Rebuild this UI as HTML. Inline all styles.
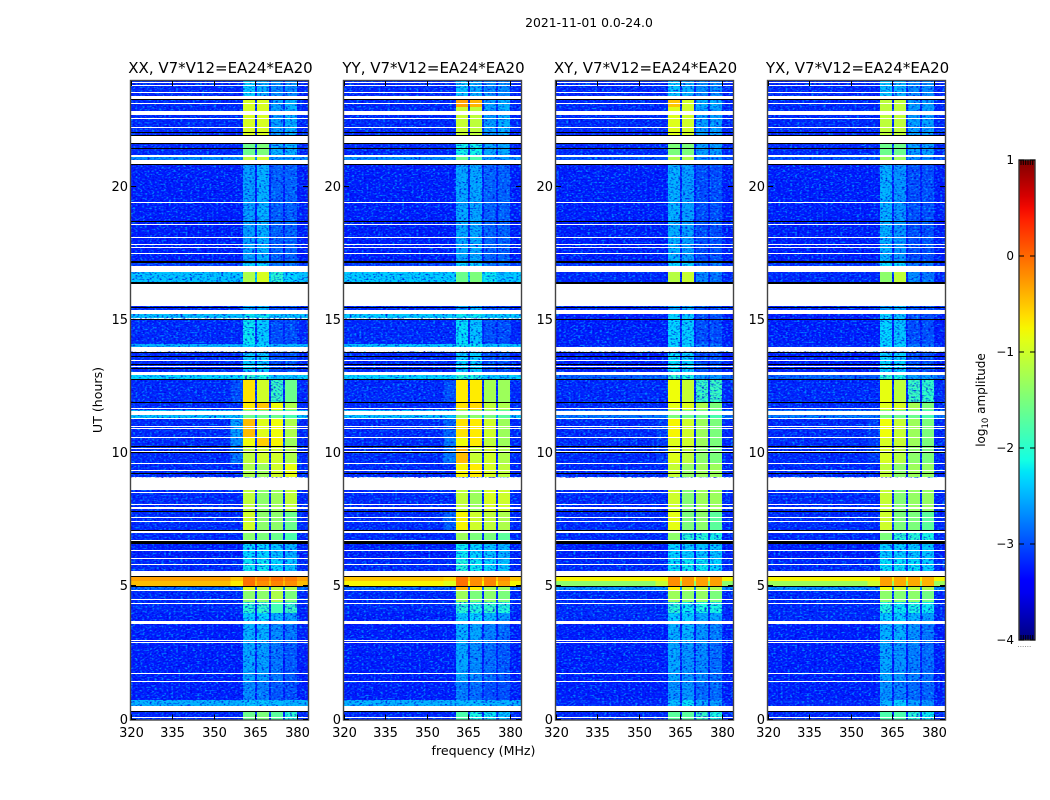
<!DOCTYPE html>
<html lang="en">
<head>
<meta charset="utf-8">
<title>Amplitude waterfall 2021-11-01</title>
<style>
html,body{margin:0;padding:0;background:#fff}
svg{display:block}
text{font-family:"DejaVu Sans","Liberation Sans",sans-serif;fill:#000}
</style>
</head>
<body>
<svg id="figure" xmlns="http://www.w3.org/2000/svg" width="1050" height="800" viewBox="0 0 1050 800">
  <defs>
    <filter id="speckDark" x="0" y="0" width="100%" height="100%">
      <feTurbulence type="fractalNoise" baseFrequency="0.42 0.62" numOctaves="1" seed="4"/>
      <feColorMatrix type="matrix" values="0 0 0 0 0  0 0 0 0 0  0 0 0 0 0.72  2.8 2.8 0 0 -2.75"/>
    </filter>
    <filter id="speckLight" x="0" y="0" width="100%" height="100%">
      <feTurbulence type="fractalNoise" baseFrequency="0.42 0.62" numOctaves="1" seed="11"/>
      <feColorMatrix type="matrix" values="0 0 0 0 0  0 0 0 0 0.6  0 0 0 0 1  2.8 2.8 0 0 -2.8"/>
    </filter>
    <linearGradient id="jetGradient" x1="0" y1="1" x2="0" y2="0"></linearGradient>
  </defs>
  <text x="589" y="27" font-size="12.4" text-anchor="middle">2021-11-01 0.0-24.0</text>
  <g id="panels"></g>
  <text x="483.5" y="755" font-size="12.6" text-anchor="middle">frequency (MHz)</text>
  <text x="102" y="400" font-size="12.6" text-anchor="middle" transform="rotate(-90 102 400)">UT (hours)</text>
  <g id="colorbar"></g>
  <text x="985" y="400" font-size="12" text-anchor="middle" transform="rotate(-90 985 400)">log<tspan font-size="8.5" dy="3">10</tspan><tspan dy="-3"> amplitude</tspan></text>
</svg>
<script>
// ---- chart data (hours, MHz, log10 amplitude) ----
const panelNames = ['XX', 'YY', 'XY', 'YX'];
const baselineLabel = ', V7*V12=EA24*EA20';
const xTickValues = [320, 335, 350, 365, 380];
const yTickValues = [0, 5, 10, 15, 20];
const colorbarTickValues = [-4, -3, -2, -1, 0, 1];
const preBandMHz = [356, 360.6];
const windowsMHz = [[360.6, 365], [365.6, 370], [370.7, 375], [375.8, 380.1]];

// each row: start hour, end hour, background, pre-band, window 1..4
const rowsXX = [
  [0,0.3,-3.2,-3.2,-1.6,-1.5,-1.7,-2.0],
  [0.5,0.72,-2.5,-2.5,-2.4,-2.4,-2.45,-2.5],
  [0.72,1.4,-3.25,-3.25,-2.7,-2.75,-2.95,-3.0],
  [1.4,2.9,-3.25,-3.25,-2.55,-2.6,-2.8,-2.95],
  [2.9,3.65,-3.25,-3.25,-2.5,-2.5,-2.7,-2.8],
  [3.65,4.0,-3.25,-3.25,-2.35,-2.3,-2.5,-2.6],
  [4.0,4.4,-3.2,-3.2,-2.0,-1.95,-1.85,-1.9],
  [4.4,4.85,-3.2,-3.2,-1.4,-1.4,-1.2,-1.5],
  [4.85,5.0,-2.9,-2.9,-0.9,-1.1,-1.1,-1.2],
  [5.0,5.18,-0.45,-0.7,-0.05,-0.2,-0.15,-0.2],
  [5.18,5.35,-0.3,-0.5,-0.05,-0.1,-0.05,-0.1],
  [5.35,6.0,-3.2,-3.2,-2.2,-2.2,-2.3,-2.4],
  [6.0,6.7,-3.25,-3.25,-2.3,-2.3,-2.4,-2.5],
  [6.7,7.1,-3.2,-3.2,-1.4,-1.5,-1.6,-1.8],
  [7.1,7.8,-3.2,-3.2,-1.0,-1.4,-1.4,-1.6],
  [7.8,8.6,-3.2,-3.2,-1.1,-1.4,-1.3,-1.1],
  [9.1,9.6,-3.2,-3.2,-1.2,-1.3,-1.0,-0.85],
  [9.6,10.25,-3.2,-2.8,-1.1,-1.0,-1.0,-1.2],
  [10.25,10.6,-3.2,-2.7,-0.8,-0.55,-0.75,-1.3],
  [10.6,11.3,-3.2,-2.6,-0.45,-0.9,-0.8,-1.2],
  [11.3,11.6,-2.4,-2.4,-1.6,-1.6,-1.6,-1.8],
  [11.6,11.9,-3.2,-3.2,-0.7,-0.5,-0.8,-1.2],
  [11.9,12.76,-3.2,-3.0,-0.65,-1.0,-1.9,-1.6],
  [12.76,12.92,-2.3,-2.3,-2.0,-2.1,-2.4,-2.4],
  [13.05,13.8,-3.2,-3.2,-2.35,-2.35,-3.0,-3.0],
  [13.96,14.1,-2.5,-2.5,-2.3,-2.3,-2.5,-2.5],
  [14.1,15.0,-3.2,-3.2,-2.2,-2.35,-3.0,-3.0],
  [15.05,15.23,-2.4,-2.4,-2.2,-2.2,-2.4,-2.4],
  [15.38,15.5,-3.2,-3.2,-2.6,-2.5,-3.0,-3.0],
  [16.38,16.8,-2.4,-2.4,-1.2,-0.95,-2.0,-2.3],
  [17.03,17.2,-3.1,-3.1,-2.3,-2.3,-2.8,-2.8],
  [17.2,20.85,-3.25,-3.25,-2.6,-2.5,-2.9,-2.9],
  [20.98,21.2,-2.7,-2.7,-1.1,-1.0,-2.6,-2.6],
  [21.2,21.65,-3.2,-3.2,-1.6,-1.5,-2.5,-2.5],
  [21.88,23.27,-3.2,-3.2,-0.95,-0.95,-2.6,-2.5],
  [23.27,24,-3.2,-3.2,-2.35,-2.5,-2.7,-2.7]
];
const rowsYY = [
  [0,0.3,-3.2,-3.2,-1.8,-2.1,-2.2,-2.4],
  [0.5,0.72,-2.5,-2.5,-2.45,-2.45,-2.5,-2.5],
  [0.72,1.4,-3.25,-3.25,-2.75,-2.85,-3.0,-3.0],
  [1.4,2.9,-3.25,-3.25,-2.55,-2.7,-2.85,-2.95],
  [2.9,3.65,-3.25,-3.25,-2.5,-2.55,-2.75,-2.85],
  [3.65,4.0,-3.25,-3.25,-2.35,-2.3,-2.45,-2.6],
  [4.0,4.4,-3.2,-3.2,-2.0,-2.05,-1.95,-2.05],
  [4.4,4.85,-3.2,-3.2,-1.3,-1.5,-1.4,-1.5],
  [4.85,5.0,-2.9,-2.9,-0.4,-0.7,-1.2,-1.3],
  [5.0,5.18,-0.75,-0.9,-0.05,-0.2,-0.15,-0.3],
  [5.18,5.35,-0.5,-0.6,-0.05,-0.2,-0.15,-0.2],
  [5.35,6.0,-3.2,-3.2,-2.05,-2.2,-2.3,-2.4],
  [6.0,6.7,-3.25,-3.25,-2.2,-2.3,-2.4,-2.5],
  [6.7,7.1,-3.2,-3.2,-1.3,-1.5,-1.5,-1.7],
  [7.1,7.8,-3.2,-2.9,-0.75,-1.0,-1.1,-1.2],
  [7.8,8.6,-3.2,-3.2,-1.1,-1.3,-0.95,-1.0],
  [9.1,9.6,-3.2,-3.2,-0.75,-0.7,-0.95,-1.1],
  [9.6,10.25,-3.2,-2.8,-0.45,-1.05,-1.0,-1.2],
  [10.25,10.6,-3.2,-2.8,-0.8,-0.7,-1.1,-1.3],
  [10.6,11.3,-3.2,-2.9,-0.65,-0.7,-1.0,-1.3],
  [11.3,11.6,-2.4,-2.4,-1.4,-1.4,-1.5,-1.7],
  [11.6,11.9,-3.2,-3.2,-0.65,-0.6,-1.1,-1.2],
  [11.9,12.76,-3.2,-3.0,-0.7,-0.7,-1.25,-1.3],
  [12.76,12.92,-2.3,-2.3,-2.0,-2.1,-2.4,-2.4],
  [13.05,13.8,-3.2,-3.2,-2.35,-2.35,-3.0,-3.0],
  [13.96,14.1,-2.4,-2.4,-2.2,-2.2,-2.4,-2.4],
  [14.1,15.0,-3.2,-3.2,-2.25,-2.4,-3.0,-3.0],
  [15.05,15.23,-2.35,-2.35,-2.2,-2.2,-2.35,-2.35],
  [15.38,15.5,-3.2,-3.2,-2.6,-2.5,-3.0,-3.0],
  [16.38,16.8,-2.35,-2.35,-1.6,-1.5,-2.2,-2.4],
  [17.03,17.2,-3.1,-3.1,-2.3,-2.3,-2.8,-2.8],
  [17.2,20.85,-3.25,-3.25,-2.55,-2.55,-2.9,-2.9],
  [20.98,21.2,-2.7,-2.7,-1.6,-1.8,-2.6,-2.6],
  [21.2,21.65,-3.2,-3.2,-2.15,-2.15,-2.55,-2.55],
  [21.88,23.0,-3.2,-3.2,-1.05,-1.1,-2.6,-2.5],
  [23.0,23.27,-3.2,-3.2,-0.3,-0.4,-2.6,-2.5],
  [23.27,24,-3.2,-3.2,-2.4,-2.5,-2.7,-2.7]
];
const rowsXY = [
  [0,0.3,-3.2,-3.2,-1.7,-1.7,-1.9,-2.1],
  [0.5,0.72,-3.2,-3.2,-2.45,-2.25,-2.55,-2.6],
  [0.72,1.4,-3.25,-3.25,-2.65,-2.65,-2.85,-2.85],
  [1.4,2.9,-3.25,-3.25,-2.55,-2.65,-2.7,-2.85],
  [2.9,3.65,-3.25,-3.25,-2.5,-2.5,-2.65,-2.75],
  [3.65,4.0,-3.2,-3.2,-2.35,-2.35,-2.55,-2.55],
  [4.0,4.4,-3.2,-3.2,-2.0,-2.2,-2.1,-2.1],
  [4.4,4.85,-3.2,-3.2,-1.3,-1.4,-1.35,-1.5],
  [4.85,5.0,-2.7,-2.7,-0.7,-1.0,-1.1,-1.2],
  [5.0,5.18,-1.4,-1.05,-0.2,-0.25,-0.3,-0.3],
  [5.18,5.35,-0.75,-0.75,-0.2,-0.25,-0.3,-0.3],
  [5.35,6.0,-3.2,-3.2,-2.25,-2.2,-2.2,-2.3],
  [6.0,6.7,-3.25,-3.25,-2.3,-2.35,-2.4,-2.4],
  [6.7,7.1,-3.2,-3.2,-1.4,-2.0,-2.0,-2.1],
  [7.1,7.8,-3.2,-3.2,-0.85,-1.5,-1.4,-1.7],
  [7.8,8.6,-3.2,-3.2,-1.0,-1.45,-1.3,-1.3],
  [9.1,9.6,-3.2,-3.2,-1.05,-1.35,-1.3,-1.3],
  [9.6,10.25,-3.2,-3.1,-0.9,-1.1,-1.4,-1.5],
  [10.25,10.6,-3.2,-3.1,-0.9,-1.0,-1.3,-1.5],
  [10.6,11.3,-3.2,-3.1,-0.75,-1.0,-1.3,-1.5],
  [11.3,11.6,-2.8,-2.8,-1.5,-1.6,-1.6,-1.8],
  [11.6,11.9,-3.2,-3.2,-0.85,-0.9,-1.2,-1.5],
  [11.9,12.76,-3.2,-3.2,-0.8,-1.05,-1.9,-1.9],
  [12.76,12.92,-2.9,-2.9,-2.0,-2.1,-2.6,-2.6],
  [13.05,13.8,-3.25,-3.25,-2.25,-2.35,-3.0,-3.0],
  [13.96,14.1,-3.2,-3.2,-2.3,-2.3,-2.8,-2.8],
  [14.1,15.2,-3.25,-3.25,-2.3,-2.35,-3.0,-3.0],
  [15.38,15.5,-3.2,-3.2,-2.6,-2.5,-3.0,-3.0],
  [16.38,16.8,-3.2,-3.2,-1.15,-1.05,-2.7,-2.8],
  [17.03,17.2,-3.15,-3.15,-2.3,-2.3,-2.8,-2.8],
  [17.2,20.85,-3.25,-3.25,-2.5,-2.6,-3.0,-3.0],
  [20.98,21.2,-3.0,-3.0,-1.2,-1.2,-2.7,-2.7],
  [21.2,21.65,-3.2,-3.2,-1.5,-1.5,-2.6,-2.6],
  [21.88,23.0,-3.2,-3.2,-0.9,-1.0,-2.6,-2.6],
  [23.0,23.27,-3.2,-3.2,-0.5,-1.0,-2.5,-2.5],
  [23.27,24,-3.2,-3.2,-2.4,-2.5,-2.7,-2.7]
];
const rowsYX = [
  [0,0.3,-3.2,-3.2,-1.8,-1.8,-2.0,-2.2],
  [0.5,0.72,-3.2,-3.2,-2.5,-2.35,-2.6,-2.65],
  [0.72,1.4,-3.25,-3.25,-2.65,-2.75,-2.85,-2.9],
  [1.4,2.9,-3.25,-3.25,-2.55,-2.65,-2.75,-2.85],
  [2.9,3.65,-3.25,-3.25,-2.5,-2.5,-2.65,-2.8],
  [3.65,4.0,-3.2,-3.2,-2.35,-2.35,-2.5,-2.6],
  [4.0,4.4,-3.2,-3.2,-2.05,-2.2,-2.1,-2.2],
  [4.4,4.85,-3.2,-3.2,-1.4,-1.45,-1.4,-1.55],
  [4.85,5.0,-2.7,-2.7,-0.8,-1.0,-1.1,-1.2],
  [5.0,5.18,-1.3,-1.0,-0.3,-0.35,-0.35,-0.4],
  [5.18,5.35,-0.75,-0.75,-0.3,-0.35,-0.35,-0.4],
  [5.35,6.0,-3.2,-3.2,-2.25,-2.25,-2.25,-2.35],
  [6.0,6.7,-3.25,-3.25,-2.35,-2.35,-2.4,-2.4],
  [6.7,7.1,-3.2,-3.2,-1.5,-2.0,-2.0,-2.1],
  [7.1,7.8,-3.2,-3.2,-1.0,-1.5,-1.5,-1.7],
  [7.8,8.6,-3.2,-3.2,-1.05,-1.45,-1.35,-1.35],
  [9.1,9.6,-3.2,-3.2,-1.1,-1.4,-1.3,-1.35],
  [9.6,10.25,-3.2,-3.1,-0.95,-1.15,-1.4,-1.5],
  [10.25,10.6,-3.2,-3.1,-0.95,-1.05,-1.3,-1.5],
  [10.6,11.3,-3.2,-3.1,-0.8,-1.05,-1.3,-1.5],
  [11.3,11.6,-2.8,-2.8,-1.5,-1.6,-1.6,-1.8],
  [11.6,11.9,-3.2,-3.2,-0.9,-0.95,-1.25,-1.5],
  [11.9,12.76,-3.2,-3.2,-0.85,-1.1,-1.9,-1.95],
  [12.76,12.92,-2.9,-2.9,-2.0,-2.1,-2.6,-2.6],
  [13.05,13.8,-3.25,-3.25,-2.3,-2.35,-3.0,-3.0],
  [13.96,14.1,-3.2,-3.2,-2.3,-2.3,-2.8,-2.8],
  [14.1,15.2,-3.25,-3.25,-2.3,-2.4,-3.0,-3.0],
  [15.38,15.5,-3.2,-3.2,-2.6,-2.5,-3.0,-3.0],
  [16.38,16.8,-3.2,-3.2,-1.4,-1.1,-2.7,-2.8],
  [17.03,17.2,-3.15,-3.15,-2.3,-2.3,-2.8,-2.8],
  [17.2,20.85,-3.25,-3.25,-2.5,-2.65,-3.0,-3.0],
  [20.98,21.2,-3.0,-3.0,-1.3,-1.3,-2.7,-2.7],
  [21.2,21.65,-3.2,-3.2,-1.6,-1.6,-2.6,-2.6],
  [21.88,23.27,-3.2,-3.2,-1.1,-1.1,-2.6,-2.6],
  [23.27,24,-3.2,-3.2,-2.4,-2.5,-2.7,-2.7]
];
const panelRows = [rowsXX, rowsYY, rowsXY, rowsYX];

// flagged (white) and zero-amplitude (black) time ranges, hours
const whiteFlags = [
  [0.08,0.11],[0.3,0.5],[1.4,1.43],[1.73,1.76],[2.88,2.91],[2.96,2.99],[3.6,3.68],[4.35,4.38],[4.51,4.54],[4.84,4.87],
  [5.4,5.56],[5.82,5.85],[6.04,6.07],[6.34,6.37],[6.72,6.75],[7.0,7.06],[7.43,7.46],[7.58,7.61],[7.88,7.96],[8.07,8.1],
  [8.52,8.55],[8.62,9.08],[9.34,9.37],[9.6,9.63],[10.06,10.09],[10.17,10.2],[10.58,10.61],[10.92,10.95],[10.99,11.02],[11.27,11.32],
  [11.41,11.56],[11.67,11.7],[12.91,13.05],[13.25,13.28],[13.47,13.5],[13.81,13.96],[15.23,15.38],[15.5,16.38],[16.8,17.03],[17.49,17.52],
  [17.71,17.74],[17.82,17.85],[18.09,18.12],[18.57,18.6],[19.4,19.43],[20.85,20.98],[21.09,21.2],[21.65,21.88],[22.21,22.24],[22.55,22.58],
  [22.7,22.85],[23.11,23.14],[23.27,23.41],[23.53,23.56],[23.79,23.82],[23.9,23.93]
];
const blackFlags = [
  [0.28,0.31],[4.98,5.01],[5.34,5.37],[6.6,6.68],[7.09,7.12],[7.77,7.84],[9.22,9.25],[9.99,10.02],[10.23,10.26],[11.89,11.92],
  [12.75,12.78],[13.16,13.19],[13.31,13.34],[13.61,13.64],[13.76,13.79],[14.99,15.03],[15.45,15.48],[16.36,16.42],[17.14,17.2],[18.68,18.71],
  [20.81,20.84],[21.41,21.44],[21.59,21.62],[21.9,21.93],[22.0,22.03],[23.25,23.28]
];

// ---- scales ----
const panelLeft = [131, 344, 556, 768];
const panelWidth = 177;
const plotBottom = 719.5;
const plotTop = 81;
const NS = 'http://www.w3.org/2000/svg';
function xScale(mhz, left) { return left + (mhz - 320) * 2.76; }
function yScale(hour) { return plotBottom - hour * 26.65; }
function barY(v) { return 640 - (v + 4) * 96; }
function interp(points, t) {
  for (let i = 1; i < points.length; i++) {
    if (t <= points[i][0]) {
      const a = points[i - 1], b = points[i];
      return a[1] + (b[1] - a[1]) * (t - a[0]) / (b[0] - a[0]);
    }
  }
  return points[points.length - 1][1];
}
const jetR = [[0,0],[0.35,0],[0.66,1],[0.89,1],[1,0.5]];
const jetG = [[0,0],[0.125,0],[0.375,1],[0.64,1],[0.91,0],[1,0]];
const jetB = [[0,0.5],[0.11,1],[0.34,1],[0.65,0],[1,0]];
function jet(t) {
  const c = [jetR, jetG, jetB].map(p => Math.round(255 * interp(p, t)));
  return 'rgb(' + c[0] + ',' + c[1] + ',' + c[2] + ')';
}
function colorOf(v) { return jet(Math.max(0, Math.min(1, (v + 4) / 5))); }
function mk(tag, attrs, parent) {
  const el = document.createElementNS(NS, tag);
  Object.keys(attrs).forEach(k => el.setAttribute(k, attrs[k]));
  parent.appendChild(el);
  return el;
}
function band(left, f0, f1, t0, t1, fill, parent) {
  const y0 = Math.round(yScale(t1)), y1 = Math.round(yScale(t0));
  const x0 = xScale(f0, left), x1 = xScale(f1, left);
  return mk('rect', { x: x0, y: y0, width: x1 - x0, height: Math.max(1, y1 - y0), fill: fill, 'shape-rendering': 'crispEdges' }, parent);
}
// quiet cells get the noise texture on top, bright cells are drawn above it
const speckleLimit = -1.9;
function drawCells(rows, left, key, heat, wantBright) {
  rows.forEach(function (row) {
    if ((row[2] > speckleLimit) === wantBright) {
      const bgCell = band(left, 320, 384.2, row[0], row[1], colorOf(row[2]), heat);
      
      
    }
    if ((row[3] > speckleLimit) === wantBright) {
      const preCell = band(left, preBandMHz[0], preBandMHz[1], row[0], row[1], colorOf(row[3]), heat);
      
      
    }
    windowsMHz.forEach(function (w, i) {
      if ((row[4 + i] > speckleLimit) === wantBright) {
        const cell = band(left, w[0], w[1], row[0], row[1], colorOf(row[4 + i]), heat);
        
        
      }
    });
  });
}

// ---- panels ----
const panelsRoot = document.getElementById('panels');
panelNames.forEach(function (name, p) {
  const left = panelLeft[p];
  const key = name.toLowerCase();
  const g = mk('g', {}, panelsRoot);
  
  

  const clip = mk('clipPath', { id: 'clip-' + key }, g);
  mk('rect', { x: left, y: plotTop, width: panelWidth, height: plotBottom - plotTop }, clip);

  const heat = mk('g', { 'clip-path': 'url(#clip-' + key + ')' }, g);
  
  

  drawCells(panelRows[p], left, key, heat, false);

  const dark = mk('rect', { x: left, y: plotTop, width: panelWidth, height: plotBottom - plotTop, filter: 'url(#speckDark)', opacity: 0.8 }, heat);
  
  
  const light = mk('rect', { x: left, y: plotTop, width: panelWidth, height: plotBottom - plotTop, filter: 'url(#speckLight)', opacity: 0.6 }, heat);
  
  

  drawCells(panelRows[p], left, key, heat, true);

  whiteFlags.forEach(function (f) {
    const line = band(left, 320, 384.2, f[0], f[1], '#fff', heat);
    
    
  });
  blackFlags.forEach(function (f) {
    const line = band(left, 320, 384.2, f[0], f[1], '#000', heat);
    
    
  });

  const frame = mk('rect', { x: left - 0.5, y: plotTop - 0.5, width: panelWidth + 1, height: plotBottom - plotTop + 1, fill: 'none', stroke: '#444', 'stroke-width': 1.4 }, g);
  
  

  const title = mk('text', { x: left + panelWidth / 2 + 1, y: 73, 'font-size': 15, 'text-anchor': 'middle' }, g);
  title.textContent = name + baselineLabel;
  
  

  xTickValues.forEach(function (v) {
    const x = Math.round(xScale(v, left)) + 0.5;
    const t1 = mk('line', { x1: x, x2: x, y1: plotBottom, y2: plotBottom - 5, stroke: '#000' }, g);
    
    
    const t2 = mk('line', { x1: x, x2: x, y1: plotTop, y2: plotTop + 5, stroke: '#000' }, g);
    
    
    const lab = mk('text', { x: x, y: 737, 'font-size': 13, 'text-anchor': 'middle' }, g);
    lab.textContent = v;
    
    
  });
  yTickValues.forEach(function (v) {
    const y = Math.round(yScale(v)) - 0.5;
    const t1 = mk('line', { x1: left, x2: left + 5, y1: y, y2: y, stroke: '#000' }, g);
    
    
    const t2 = mk('line', { x1: left + panelWidth, x2: left + panelWidth - 5, y1: y, y2: y, stroke: '#000' }, g);
    
    
    const lab = mk('text', { x: left - 3, y: y + 4.5, 'font-size': 13, 'text-anchor': 'end' }, g);
    lab.textContent = v;
    
    
  });
});

// ---- colorbar ----
const grad = document.getElementById('jetGradient');
for (let i = 0; i <= 40; i++) {
  mk('stop', { offset: i / 40, 'stop-color': jet(i / 40) }, grad);
}
const cb = document.getElementById('colorbar');
const cbLeft = 1019, cbRight = 1035;
const cbBar = mk('rect', { x: cbLeft, y: barY(1), width: cbRight - cbLeft, height: barY(-4) - barY(1), fill: 'url(#jetGradient)', stroke: '#333', 'stroke-width': 1.4 }, cb);


colorbarTickValues.forEach(function (v) {
  const y = barY(v);
  const t1 = mk('line', { x1: cbLeft, x2: cbLeft + 5, y1: y, y2: y, stroke: '#000' }, cb);
  
  
  const t2 = mk('line', { x1: cbRight, x2: cbRight - 5, y1: y, y2: y, stroke: '#000' }, cb);
  
  
  const lab = mk('text', { x: cbLeft - 5, y: y + 4, 'font-size': 12, 'text-anchor': 'end' }, cb);
  lab.textContent = v < 0 ? '\u2212' + Math.abs(v) : String(v);
  
  
});
[1021, 1023.3, 1025.7, 1028, 1030.3, 1032.7].forEach(function (x) {
  const t1 = mk('line', { x1: x, x2: x, y1: barY(1), y2: barY(1) + 5, stroke: '#000' }, cb);
  
  
  const t2 = mk('line', { x1: x, x2: x, y1: barY(-4), y2: barY(-4) - 5, stroke: '#000' }, cb);
  
  
  const dot = mk('rect', { x: x - 3, y: 646, width: 1, height: 1, fill: '#999' }, cb);
  
  
});
</script>
</body>
</html>
